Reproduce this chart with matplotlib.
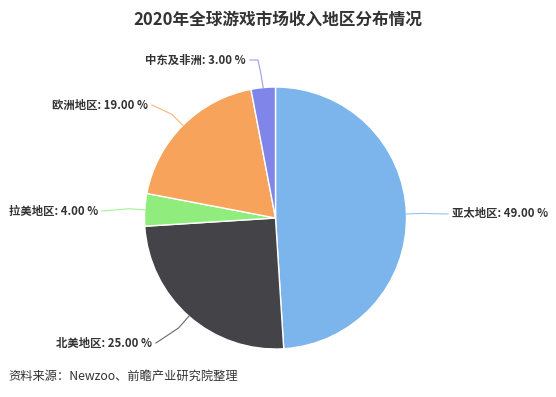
import matplotlib
matplotlib.use("Agg")
import matplotlib.pyplot as plt
import numpy as np

plt.rcParams['font.family'] = ['Noto Sans CJK SC', 'DejaVu Sans']

categories = ["亚太地区", "北美地区", "拉美地区", "欧洲地区", "中东及非洲"]
values = [49.00, 25.00, 4.00, 19.00, 3.00]
colors = ["#7cb5ec", "#434348", "#90ed7d", "#f7a35c", "#8085e9"]
title = "2020年全球游戏市场收入地区分布情况"
source = "资料来源：Newzoo、前瞻产业研究院整理"

W, H = 556, 397
fig = plt.figure(figsize=(W / 100, H / 100), dpi=100)
cx, cy, R = 275.5, 218.0, 131.0
ax = fig.add_axes([(cx - R) / W, (H - cy - R) / H, 2 * R / W, 2 * R / H])

wedges, _ = ax.pie(values, colors=colors, startangle=90, counterclock=False,
                   radius=1.0, wedgeprops=dict(edgecolor='white', linewidth=1.0))
ax.set_xlim(-1, 1)
ax.set_ylim(-1, 1)
ax.axis('off')


def px(x, y):
    return ((x - cx) / R, (cy - y) / R)

# label text anchor positions (pixels) and alignment
label_pos = {
    "亚太地区": (452, 214, 'left'),
    "北美地区": (152, 343, 'right'),
    "拉美地区": (98, 211, 'right'),
    "欧洲地区": (148, 105, 'right'),
    "中东及非洲": (246, 60, 'right'),
}

for w, cat, v, col in zip(wedges, categories, values, colors):
    mid = np.deg2rad((w.theta1 + w.theta2) / 2)
    ex, ey = np.cos(mid), np.sin(mid)
    tx, ty, ha = label_pos[cat]
    lx, ly = px(tx, ty)
    ox, oy = 1.12 * ex, 1.12 * ey
    endx = lx - 0.03 if ha == 'left' else lx + 0.03
    if cat == "中东及非洲":
        xs = [ex, ex - 0.02, ex - 0.04, endx]
        ys = [ey, ey + 0.12, ly, ly]
    else:
        xs = [ex, ox, endx]
        ys = [ey, oy, ly]
    ax.plot(xs, ys, color=col, lw=0.8, clip_on=False, alpha=0.8)
    ax.text(lx, ly, f"{cat}: {v:.2f} %", ha=ha, va='center', fontsize=8.2,
            fontweight='bold', color='#333333', clip_on=False)

fig.text(278 / W, 1 - 20 / H, title, ha='center', va='center', fontsize=12,
         fontweight='bold', color='#333333')
fig.text(8 / W, 1 - 376 / H, source, ha='left', va='center', fontsize=8.8,
         color='#333333')

fig.savefig("out.png", dpi=100, facecolor='white')
